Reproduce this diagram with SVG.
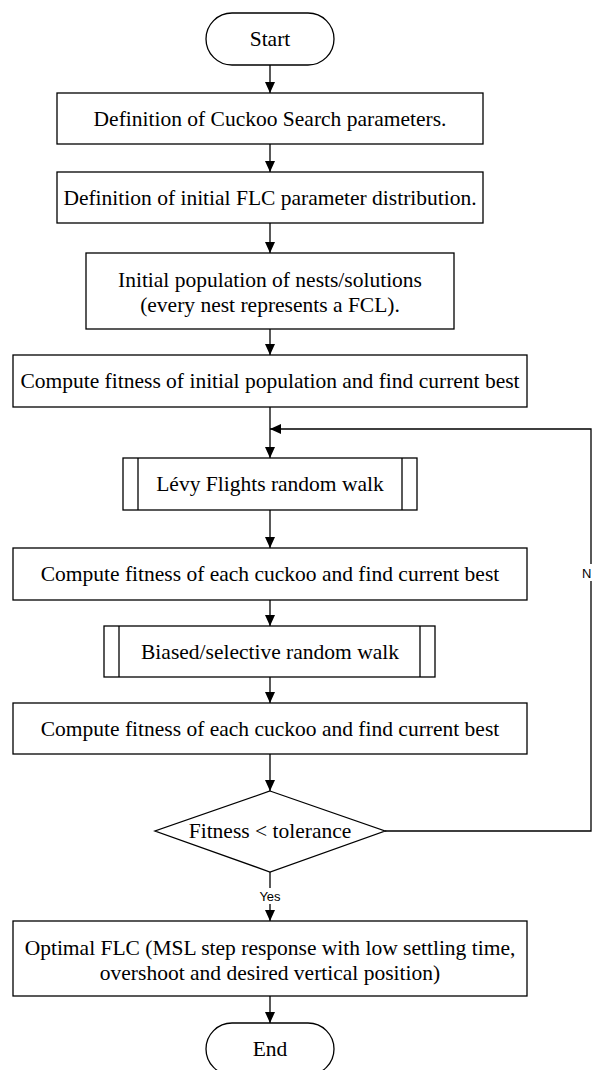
<svg xmlns="http://www.w3.org/2000/svg" width="592" height="1070" viewBox="0 0 592 1070">
<style>
.shape{fill:#fff;stroke:#000;stroke-width:1.3}
.line{fill:none;stroke:#000;stroke-width:1.3}
.t{font-family:"Liberation Serif","Times New Roman",serif;font-size:21.5px;fill:#000;text-anchor:middle}
.lbl{font-family:"Liberation Sans",Arial,sans-serif;font-size:13px;fill:#000}
</style>
<defs>
<marker id="arr" markerUnits="userSpaceOnUse" markerWidth="11" markerHeight="10" refX="11" refY="5" orient="auto">
<path d="M0,0 L11,5 L0,10 Z" fill="#000"/>
</marker>
</defs>
<rect width="592" height="1070" fill="#fff"/>
<g id="connectors">
<line class="line" x1="270" y1="65" x2="270" y2="93" marker-end="url(#arr)"/>
<line class="line" x1="270" y1="144" x2="270" y2="172" marker-end="url(#arr)"/>
<line class="line" x1="270" y1="223" x2="270" y2="253" marker-end="url(#arr)"/>
<line class="line" x1="270" y1="329" x2="270" y2="355" marker-end="url(#arr)"/>
<line class="line" x1="270" y1="407" x2="270" y2="458" marker-end="url(#arr)"/>
<polyline class="line" points="385,831 591,831 591,429 270,429" marker-end="url(#arr)"/>
<line class="line" x1="270" y1="510" x2="270" y2="548" marker-end="url(#arr)"/>
<line class="line" x1="270" y1="600" x2="270" y2="626" marker-end="url(#arr)"/>
<line class="line" x1="270" y1="677" x2="270" y2="703" marker-end="url(#arr)"/>
<line class="line" x1="270" y1="754" x2="270" y2="791" marker-end="url(#arr)"/>
<line class="line" x1="270" y1="872" x2="270" y2="921" marker-end="url(#arr)"/>
<line class="line" x1="270" y1="996" x2="270" y2="1023" marker-end="url(#arr)"/>
<rect x="257" y="888" width="26" height="16" fill="#fff"/>
<text class="lbl" x="270" y="901" text-anchor="middle">Yes</text>
<rect x="582" y="564" width="10" height="17" fill="#fff"/>
<text class="lbl" x="582" y="578">N</text>
</g>
<g id="start">
<rect class="shape" x="206" y="13" width="128" height="52" rx="26" ry="26"/>
<text class="t" x="270" y="46">Start</text>
</g>
<g id="cs-params">
<rect class="shape" x="57" y="93" width="426" height="51"/>
<text class="t" x="270" y="126">Definition of Cuckoo Search parameters.</text>
</g>
<g id="flc-dist">
<rect class="shape" x="57" y="172" width="426" height="51"/>
<text class="t" x="270" y="205">Definition of initial FLC parameter distribution.</text>
</g>
<g id="init-pop">
<rect class="shape" x="86" y="253" width="368" height="76"/>
<text class="t" x="270" y="287">Initial population of nests/solutions</text>
<text class="t" x="270" y="312">(every nest represents a FCL).</text>
</g>
<g id="fitness-init">
<rect class="shape" x="13" y="355" width="514" height="52"/>
<text class="t" x="270" y="388">Compute fitness of initial population and find current best</text>
</g>
<g id="levy">
<rect class="shape" x="123" y="458" width="294" height="52"/>
<line class="line" x1="138" y1="458" x2="138" y2="510"/>
<line class="line" x1="402" y1="458" x2="402" y2="510"/>
<text class="t" x="270" y="491">Lévy Flights random walk</text>
</g>
<g id="fitness-1">
<rect class="shape" x="13" y="548" width="514" height="52"/>
<text class="t" x="270" y="581">Compute fitness of each cuckoo and find current best</text>
</g>
<g id="biased">
<rect class="shape" x="104" y="626" width="331" height="51"/>
<line class="line" x1="119" y1="626" x2="119" y2="677"/>
<line class="line" x1="420" y1="626" x2="420" y2="677"/>
<text class="t" x="270" y="659">Biased/selective random walk</text>
</g>
<g id="fitness-2">
<rect class="shape" x="13" y="703" width="514" height="51"/>
<text class="t" x="270" y="736">Compute fitness of each cuckoo and find current best</text>
</g>
<g id="decision">
<polygon class="shape" points="270,791 385,831 270,872 155,831"/>
<text class="t" x="270" y="838">Fitness &lt; tolerance</text>
</g>
<g id="optimal">
<rect class="shape" x="13" y="921" width="514" height="75"/>
<text class="t" x="270" y="955">Optimal FLC (MSL step response with low settling time,</text>
<text class="t" x="270" y="980">overshoot and desired vertical position)</text>
</g>
<g id="end">
<rect class="shape" x="206" y="1023" width="128" height="52" rx="26" ry="26"/>
<text class="t" x="270" y="1056">End</text>
</g>
</svg>
